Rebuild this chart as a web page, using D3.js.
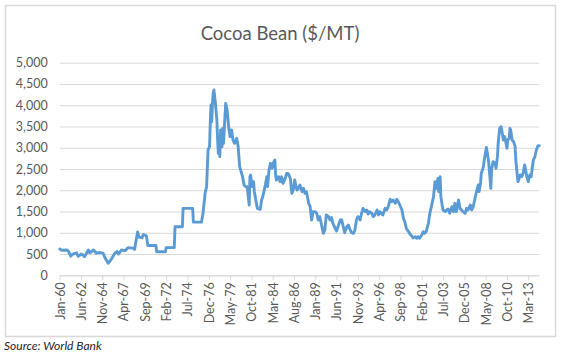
<!DOCTYPE html>
<html>
<head>
<meta charset="utf-8">
<script src="https://cdn.jsdelivr.net/npm/d3@7"></script>
<style>
  body { margin: 0; background: #fff; }
  svg text { font-family: Lato, "Open Sans", sans-serif; }
</style>
</head>
<body>
<svg id="chart"></svg>
<script>
// months since Jan-1960 (monthly category axis, Jan-60 .. Jun-14)
const months = [
  0, 3, 10, 12, 15, 18, 23, 25, 30, 34,
  39, 41, 46, 48, 50, 55, 59, 62, 66, 71,
  75, 78, 80, 84, 89, 93, 99, 102, 106, 108,
  112, 114, 118, 120, 131, 132, 144, 145, 156, 157,
  167, 168, 181, 182, 193, 195, 198, 200, 202, 204,
  205, 206, 207, 208, 209, 210, 212, 214, 215, 216,
  217, 218, 219, 221, 222, 223, 225, 226, 228, 230,
  232, 234, 236, 238, 240, 241, 243, 245, 247, 249,
  251, 253, 255, 256, 258, 259, 260, 262, 264, 265,
  267, 269, 273, 275, 277, 280, 282, 283, 285, 287,
  289, 291, 293, 294, 295, 298, 300, 302, 304, 307,
  309, 311, 314, 316, 318, 320, 323, 325, 327, 330,
  332, 334, 336, 339, 341, 343, 345, 348, 350, 352,
  354, 357, 359, 361, 363, 366, 368, 370, 372, 375,
  377, 379, 382, 384, 386, 388, 391, 393, 395, 397,
  400, 402, 404, 406, 409, 411, 413, 416, 418, 420,
  422, 425, 427, 429, 432, 434, 436, 438, 440, 443,
  445, 447, 450, 452, 454, 457, 459, 461, 463, 466,
  468, 470, 472, 475, 477, 479, 481, 484, 486, 488,
  490, 493, 495, 497, 499, 502, 504, 506, 509, 511,
  513, 515, 516, 518, 519, 521, 522, 525, 527, 529,
  531, 534, 536, 538, 540, 543, 545, 547, 549, 552,
  554, 556, 559, 561, 563, 565, 568, 570, 571, 573,
  574, 577, 578, 580, 581, 583, 584, 587, 588, 590,
  593, 594, 596, 597, 599, 601, 603, 604, 606, 609,
  610, 612, 613, 614, 616, 618, 620, 621, 623, 624,
  627, 629, 631, 633, 634, 636, 638, 640, 642, 643,
  645, 647, 649, 651, 653
];

// cocoa bean price, $/MT
const prices = [
  620, 590, 595, 560, 450, 500, 530, 450, 500, 440,
  595, 530, 595, 560, 520, 535, 520, 400, 282, 400,
  520, 560, 500, 595, 580, 650, 640, 610, 1020, 900,
  880, 960, 930, 700, 700, 555, 555, 650, 650, 1143,
  1143, 1575, 1575, 1250, 1250, 1440, 1930, 2085, 2947, 3025,
  3574, 4005, 3613, 4044, 4279, 4357, 4044, 3652, 3182, 2868,
  3103, 2790, 3417, 3025, 3456, 3103, 3730, 4044, 3887, 3495,
  3260, 3417, 3182, 3103, 3182, 3221, 3025, 2555, 2437, 2320,
  2124, 2085, 2085, 1967, 1654, 2320, 2359, 2085, 2202, 1967,
  1771, 1575, 1552, 1771, 1889, 2124, 2320, 2085, 2477, 2633,
  2516, 2649, 2712, 2359, 2241, 2320, 2202, 2320, 2163, 2281,
  2398, 2398, 2281, 1928, 2006, 2241, 2006, 2045, 2124, 1967,
  2045, 1928, 1967, 1693, 1614, 1301, 1497, 1497, 1458, 1301,
  1379, 1144, 987, 1066, 1418, 1379, 1301, 1360, 1223, 1105,
  1040, 1150, 1300, 1300, 1150, 1000, 1144, 1183, 1090, 1010,
  987, 1066, 1301, 1379, 1300, 1458, 1575, 1497, 1536, 1440,
  1497, 1458, 1379, 1418, 1536, 1420, 1497, 1450, 1418, 1575,
  1536, 1600, 1787, 1732, 1771, 1693, 1787, 1732, 1654, 1536,
  1340, 1250, 1100, 1027, 972, 930, 880, 909, 870, 909,
  870, 948, 1027, 987, 1027, 1223, 1458, 1614, 1850, 2202,
  2045, 2280, 1967, 2320, 1850, 1614, 1536, 1497, 1536, 1560,
  1458, 1614, 1497, 1693, 1497, 1771, 1575, 1536, 1497, 1458,
  1575, 1536, 1654, 1536, 1614, 1771, 2006, 2124, 1967, 2163,
  2398, 2555, 2712, 2908, 3009, 2790, 2672, 2045, 2477, 2672,
  2633, 2516, 2790, 3103, 3456, 3495, 3299, 3182, 3260, 2986,
  3182, 3221, 3456, 3417, 3182, 3143, 3025, 2712, 2359, 2202,
  2359, 2320, 2398, 2594, 2516, 2320, 2202, 2359, 2320, 2477,
  2712, 2790, 2947, 3041, 3050
];

// category labels shown every 29 months
const tickLabels = [
  "Jan-60", "Jun-62", "Nov-64", "Apr-67", "Sep-69", "Feb-72", "Jul-74", "Dec-76",
  "May-79", "Oct-81", "Mar-84", "Aug-86", "Jan-89", "Jun-91", "Nov-93", "Apr-96",
  "Sep-98", "Feb-01", "Jul-03", "Dec-05", "May-08", "Oct-10", "Mar-13"
];
const labelStep = 29;
const yTicks = [0, 500, 1000, 1500, 2000, 2500, 3000, 3500, 4000, 4500, 5000];

const width = 565, height = 361;
const plotL = 59.7, plotR = 539.3, plotT = 62.7, plotB = 275.3;
const grid = "#d9d9d9", textCol = "#595959";

const svg = d3.select("#chart").attr("width", width).attr("height", height);

// chart area frame
svg.append("rect")
  .attr("x", 5.5).attr("y", 5.5)
  .attr("width", 550).attr("height", 331)
  .attr("fill", "#fff")
  .attr("stroke", grid)
  .attr("stroke-width", 1.5);

svg.append("text")
  .attr("x", 280).attr("y", 40)
  .attr("text-anchor", "middle")
  .attr("fill", textCol)
  .style("font-size", "18.5px")
  .text("Cocoa Bean ($/MT)");

const x = d3.scaleLinear().domain([0, 653]).range([plotL, plotR]);
const y = d3.scaleLinear().domain([0, 5000]).range([plotB, plotT]);

// y axis: gridlines + labels, no axis line
const yAxis = svg.append("g")
  .attr("transform", `translate(${plotL},0)`)
  .call(d3.axisLeft(y).tickValues(yTicks).tickSize(-(plotR - plotL)).tickPadding(12)
    .tickFormat(d3.format(",")));
yAxis.select(".domain").remove();
yAxis.selectAll(".tick line").attr("stroke", grid);
yAxis.selectAll(".tick text")
  .attr("fill", textCol)
  .style("font-size", "12.5px");

// x axis
const xTicks = tickLabels.map((d, i) => i * labelStep);
const xAxis = svg.append("g")
  .attr("transform", `translate(0,${plotB})`)
  .call(d3.axisBottom(x).tickValues(xTicks).tickSize(5)
    .tickFormat((d, i) => tickLabels[i]));
xAxis.select(".domain").attr("stroke", grid).attr("d", `M${plotL},0.5H${plotR}`);
xAxis.selectAll(".tick line").attr("stroke", grid);
xAxis.selectAll(".tick text")
  .attr("fill", textCol)
  .style("font-size", "12.5px")
  .attr("text-anchor", "end")
  .attr("transform", "rotate(-90)")
  .attr("x", -7)
  .attr("y", 0)
  .attr("dy", "0.35em");

const data = months.map((m, i) => ({ m, v: prices[i] }));

svg.append("path")
  .datum(data)
  .attr("fill", "none")
  .attr("stroke", "#5b9bd5")
  .attr("stroke-width", 2.9)
  .attr("stroke-linejoin", "round")
  .attr("stroke-linecap", "round")
  .attr("d", d3.line().x(d => x(d.m)).y(d => y(d.v)));

svg.append("text")
  .attr("x", 4).attr("y", 350)
  .attr("fill", "#262626")
  .style("font-size", "12px")
  .style("font-style", "italic")
  .text("Source: World Bank");
</script>
</body>
</html>
